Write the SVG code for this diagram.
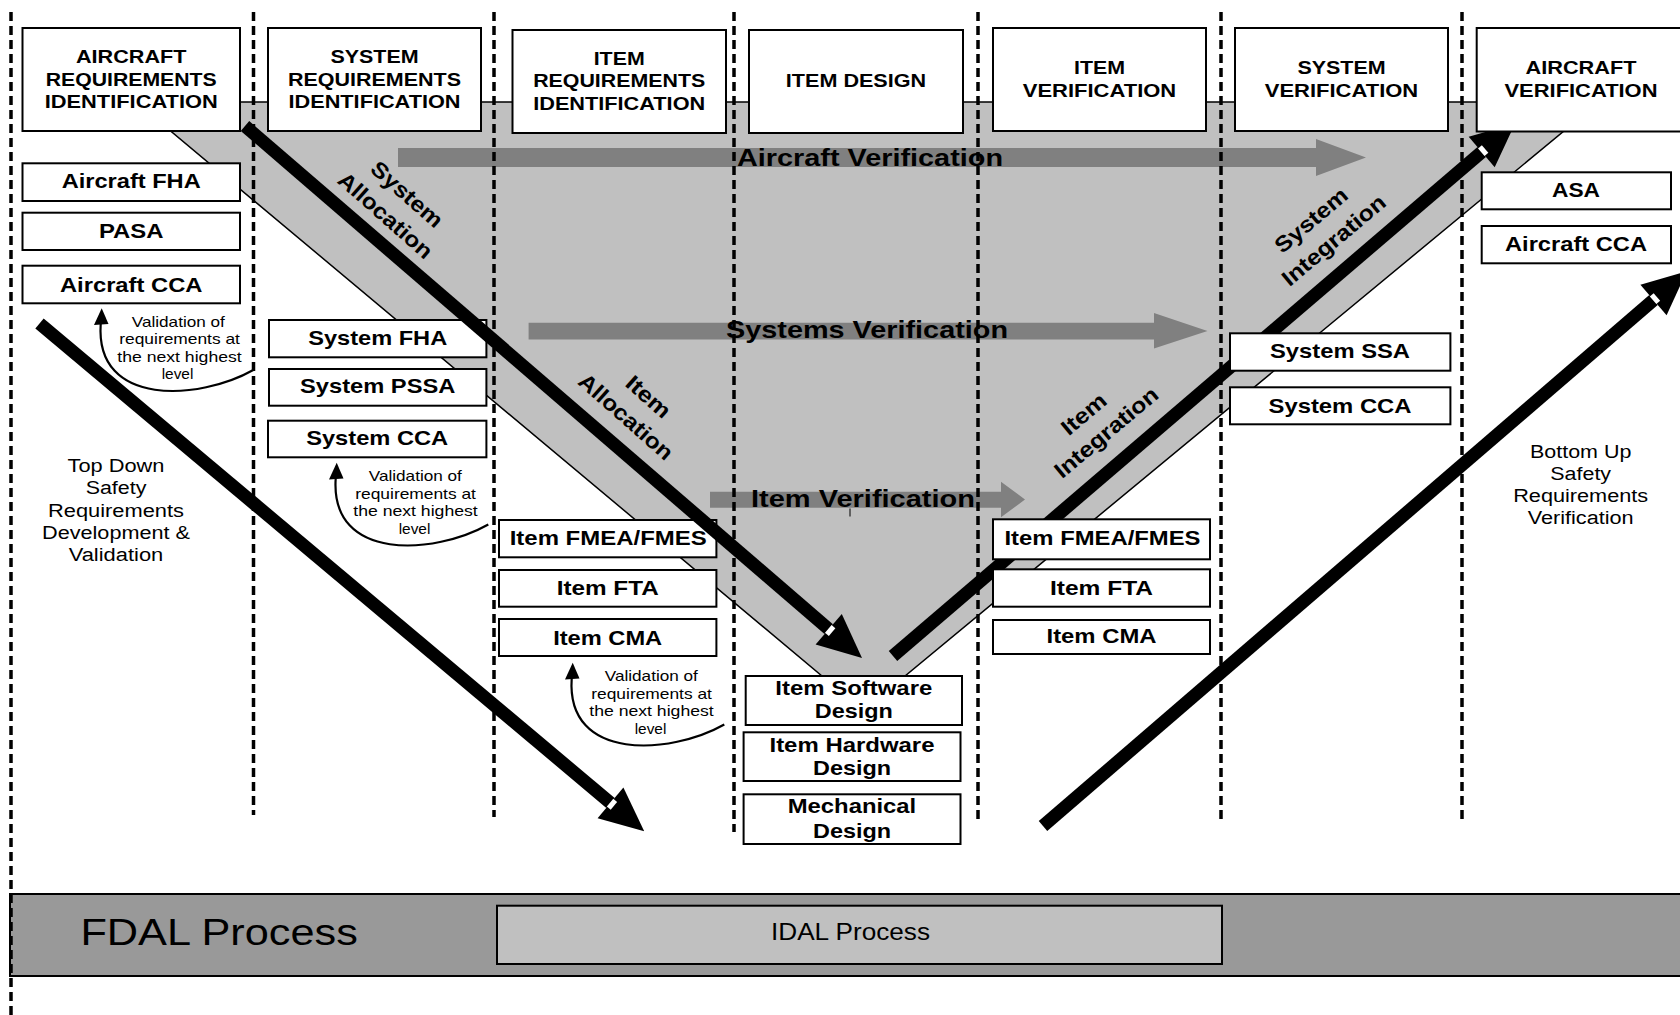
<svg xmlns="http://www.w3.org/2000/svg" width="1680" height="1015" viewBox="0 0 1680 1015">
<style>
text{font-family:"Liberation Sans",Arial,sans-serif;fill:#000}
.box{fill:#fff;stroke:#000;stroke-width:2}
.hdr{font-weight:bold;font-size:18px;text-anchor:middle}
.lbl{font-weight:bold;font-size:21px;text-anchor:middle}
.big{font-weight:bold;font-size:24px;text-anchor:middle}
.rot{font-weight:bold;font-size:22px;text-anchor:middle}
.note{font-size:14.5px;text-anchor:middle}
.side{font-size:18px;text-anchor:middle}
.dash{stroke:#000;stroke-width:3.5;stroke-dasharray:9 5;fill:none}
.shaft{stroke:#000;stroke-width:13;stroke-linecap:butt;fill:none}
.garr{fill:#808080}
.curve{fill:none;stroke:#000;stroke-width:2.2}
</style>
<rect width="1680" height="1015" fill="#fff"/>

<!-- Process bands -->
<g id="fdal">
<rect x="10" y="894" width="1680" height="82" fill="#999999" stroke="#000" stroke-width="2"/>
<text x="80.4" y="945" font-size="37" textLength="277.5" lengthAdjust="spacingAndGlyphs">FDAL Process</text>
</g>
<g id="idal">
<rect x="497" y="905.7" width="725" height="58.3" fill="#c0c0c0" stroke="#000" stroke-width="2"/>
<text x="771" y="940" font-size="23" textLength="159" lengthAdjust="spacingAndGlyphs">IDAL Process</text>
</g>

<!-- V shape -->
<g id="v-shape">
<polygon points="136,102 1599,102 905,676 822,676" fill="#c0c0c0" stroke="#000" stroke-width="1.5"/>
</g>

<!-- gray verification arrows -->
<g id="aircraft-verification">
<path class="garr" d="M398,148 H1316 V139 L1366,157.5 L1316,176 V167 H398 Z"/>
<text class="big" x="870" y="165.7" textLength="266" lengthAdjust="spacingAndGlyphs">Aircraft Verification</text>
</g>
<g id="systems-verification">
<path class="garr" d="M528.6,322.7 H1154 V313 L1207.5,331 L1154,348.5 V339.5 H528.6 Z"/>
<text class="big" x="867" y="338.3" textLength="282" lengthAdjust="spacingAndGlyphs">Systems Verification</text>
</g>
<g id="item-verification">
<path class="garr" d="M710,491.7 H1001 V481.7 L1025,499.5 L1001,517.3 V507.7 H710 Z"/>
<text class="big" x="863" y="506.7" textLength="224" lengthAdjust="spacingAndGlyphs">Item Verification</text>
<line x1="850" y1="508.5" x2="850" y2="516.5" stroke="#000" stroke-width="1"/>
</g>

<!-- column separators -->
<g id="separators">
<line class="dash" x1="11" y1="12" x2="11" y2="1015"/>
<line class="dash" x1="253.5" y1="12" x2="253.5" y2="815"/>
<line class="dash" x1="494" y1="12" x2="494" y2="817"/>
<line class="dash" x1="734" y1="12" x2="734" y2="832"/>
<line class="dash" x1="978" y1="12" x2="978" y2="820"/>
<line class="dash" x1="1221" y1="12" x2="1221" y2="823"/>
<line class="dash" x1="1462" y1="12" x2="1462" y2="820"/>
</g>

<!-- left-side boxes -->
<g id="aircraft-fha"><rect class="box" x="22.5" y="163.3" width="217.5" height="37.7"/><text class="lbl" x="131.2" y="188.3" textLength="139" lengthAdjust="spacingAndGlyphs">Aircraft FHA</text></g>
<g id="pasa"><rect class="box" x="22.5" y="212.7" width="217.5" height="37.3"/><text class="lbl" x="131.2" y="238" textLength="64.6" lengthAdjust="spacingAndGlyphs">PASA</text></g>
<g id="aircraft-cca-left"><rect class="box" x="22.5" y="265.7" width="217.5" height="37.6"/><text class="lbl" x="131.2" y="291.7" textLength="142.5" lengthAdjust="spacingAndGlyphs">Aircraft CCA</text></g>

<g id="system-fha"><rect class="box" x="269" y="320" width="217.4" height="37.3"/><text class="lbl" x="377.7" y="345" textLength="139" lengthAdjust="spacingAndGlyphs">System FHA</text></g>
<g id="system-pssa"><rect class="box" x="269" y="369" width="217.4" height="36.7"/><text class="lbl" x="377.7" y="393.3" textLength="155.4" lengthAdjust="spacingAndGlyphs">System PSSA</text></g>
<g id="system-cca-left"><rect class="box" x="268" y="420.7" width="218.4" height="36.6"/><text class="lbl" x="377.2" y="445" textLength="142" lengthAdjust="spacingAndGlyphs">System CCA</text></g>

<g id="item-fmea-left"><rect class="box" x="499" y="520" width="217.4" height="37.3"/><text class="lbl" x="608.2" y="545" textLength="197" lengthAdjust="spacingAndGlyphs">Item FMEA/FMES</text></g>
<g id="item-fta-left"><rect class="box" x="499" y="570" width="217.4" height="36.7"/><text class="lbl" x="607.7" y="595" textLength="102" lengthAdjust="spacingAndGlyphs">Item FTA</text></g>
<g id="item-cma-left"><rect class="box" x="499" y="619" width="217.4" height="37"/><text class="lbl" x="607.7" y="645" textLength="109" lengthAdjust="spacingAndGlyphs">Item CMA</text></g>

<!-- downward black arrows (connectors) -->
<g id="connectors-down">
<line class="shaft" x1="39.5" y1="323.5" x2="610.5" y2="802.9"/>
<polygon points="644.2,831.2 597.6,818.2 623.4,787.6"/>
<rect x="-2.5" y="-5" width="5" height="10" fill="#fff" transform="translate(612,804.2) rotate(40)"/>
<line class="shaft" x1="245" y1="126" x2="828.7" y2="629.2"/>
<polygon points="862,657.9 815.6,644.4 841.8,614"/>
<rect x="-2.5" y="-5" width="5" height="10" fill="#fff" transform="translate(830.2,630.5) rotate(40.8)"/>
</g>

<!-- upward black arrows (connectors) -->
<g id="connectors-up">
<line class="shaft" x1="893" y1="656" x2="1481.7" y2="152"/>
<polygon points="1515.1,123.4 1494.7,167.2 1468.7,136.8"/>
<rect x="-2.5" y="-5" width="5" height="10" fill="#fff" transform="translate(1483.2,150.7) rotate(-40.6)"/>
<line class="shaft" x1="1043" y1="826" x2="1653.5" y2="300"/>
<polygon points="1686.8,271.3 1666.6,315.2 1640.4,284.8"/>
<rect x="-2.5" y="-5" width="5" height="10" fill="#fff" transform="translate(1655,298.7) rotate(-40.7)"/>
</g>

<!-- rotated arrow labels -->
<g id="system-allocation">
<text class="rot" transform="translate(402,200) rotate(41.5)" textLength="88" lengthAdjust="spacingAndGlyphs">System</text>
<text class="rot" transform="translate(380.5,221) rotate(41.5)" textLength="118" lengthAdjust="spacingAndGlyphs">Allocation</text>
</g>
<g id="item-allocation">
<text class="rot" transform="translate(643.5,402.4) rotate(41.5)" textLength="52" lengthAdjust="spacingAndGlyphs">Item</text>
<text class="rot" transform="translate(621,422.4) rotate(41.5)" textLength="118" lengthAdjust="spacingAndGlyphs">Allocation</text>
</g>
<g id="system-integration">
<text class="rot" transform="translate(1316,226) rotate(-40)" textLength="88" lengthAdjust="spacingAndGlyphs">System</text>
<text class="rot" transform="translate(1338.5,246) rotate(-40)" textLength="128" lengthAdjust="spacingAndGlyphs">Integration</text>
</g>
<g id="item-integration">
<text class="rot" transform="translate(1088.6,419.7) rotate(-40)" textLength="52" lengthAdjust="spacingAndGlyphs">Item</text>
<text class="rot" transform="translate(1111,438.2) rotate(-40)" textLength="128" lengthAdjust="spacingAndGlyphs">Integration</text>
</g>

<!-- header boxes -->
<g id="hdr-aircraft-req"><rect class="box" x="22.5" y="28" width="217.5" height="103"/>
<text class="hdr" x="131.2" y="63.3" textLength="110.4" lengthAdjust="spacingAndGlyphs">AIRCRAFT</text>
<text class="hdr" x="131.2" y="86" textLength="171" lengthAdjust="spacingAndGlyphs">REQUIREMENTS</text>
<text class="hdr" x="131.2" y="108.3" textLength="173" lengthAdjust="spacingAndGlyphs">IDENTIFICATION</text></g>
<g id="hdr-system-req"><rect class="box" x="268" y="28" width="213" height="103"/>
<text class="hdr" x="374.5" y="63.3" textLength="88.2" lengthAdjust="spacingAndGlyphs">SYSTEM</text>
<text class="hdr" x="374.5" y="86" textLength="173" lengthAdjust="spacingAndGlyphs">REQUIREMENTS</text>
<text class="hdr" x="374.5" y="108.3" textLength="172" lengthAdjust="spacingAndGlyphs">IDENTIFICATION</text></g>
<g id="hdr-item-req"><rect class="box" x="512.5" y="30" width="213.5" height="103"/>
<text class="hdr" x="619.2" y="65" textLength="51" lengthAdjust="spacingAndGlyphs">ITEM</text>
<text class="hdr" x="619.2" y="87.3" textLength="172" lengthAdjust="spacingAndGlyphs">REQUIREMENTS</text>
<text class="hdr" x="619.2" y="110" textLength="172" lengthAdjust="spacingAndGlyphs">IDENTIFICATION</text></g>
<g id="hdr-item-design"><rect class="box" x="749" y="30" width="214" height="103"/>
<text class="hdr" x="856" y="87.3" textLength="140.3" lengthAdjust="spacingAndGlyphs">ITEM DESIGN</text></g>
<g id="hdr-item-ver"><rect class="box" x="993" y="28" width="213" height="103"/>
<text class="hdr" x="1099.5" y="74.3" textLength="51" lengthAdjust="spacingAndGlyphs">ITEM</text>
<text class="hdr" x="1099.5" y="97.3" textLength="153.4" lengthAdjust="spacingAndGlyphs">VERIFICATION</text></g>
<g id="hdr-system-ver"><rect class="box" x="1235" y="28" width="213" height="103"/>
<text class="hdr" x="1341.5" y="74.3" textLength="88.2" lengthAdjust="spacingAndGlyphs">SYSTEM</text>
<text class="hdr" x="1341.5" y="97.3" textLength="153.4" lengthAdjust="spacingAndGlyphs">VERIFICATION</text></g>
<g id="hdr-aircraft-ver"><rect class="box" x="1476.7" y="28" width="215" height="103.5"/>
<text class="hdr" x="1581" y="74.3" textLength="111" lengthAdjust="spacingAndGlyphs">AIRCRAFT</text>
<text class="hdr" x="1581" y="97.3" textLength="153" lengthAdjust="spacingAndGlyphs">VERIFICATION</text></g>

<!-- item design boxes -->
<g id="item-software"><rect class="box" x="745.7" y="676" width="216.3" height="49"/>
<text class="lbl" x="853.8" y="695" textLength="157" lengthAdjust="spacingAndGlyphs">Item Software</text>
<text class="lbl" x="853.8" y="718" textLength="78" lengthAdjust="spacingAndGlyphs">Design</text></g>
<g id="item-hardware"><rect class="box" x="743.6" y="732.3" width="216.9" height="48.7"/>
<text class="lbl" x="852" y="751.7" textLength="165" lengthAdjust="spacingAndGlyphs">Item Hardware</text>
<text class="lbl" x="852" y="775" textLength="78" lengthAdjust="spacingAndGlyphs">Design</text></g>
<g id="mechanical"><rect class="box" x="743.6" y="794.3" width="216.9" height="49.7"/>
<text class="lbl" x="852" y="813.3" textLength="128.5" lengthAdjust="spacingAndGlyphs">Mechanical</text>
<text class="lbl" x="852" y="838.3" textLength="78" lengthAdjust="spacingAndGlyphs">Design</text></g>

<!-- right-side boxes -->
<g id="item-fmea-right"><rect class="box" x="993" y="519.3" width="217" height="40"/><text class="lbl" x="1102.5" y="545" textLength="196" lengthAdjust="spacingAndGlyphs">Item FMEA/FMES</text></g>
<g id="item-fta-right"><rect class="box" x="993" y="569.3" width="217" height="37.4"/><text class="lbl" x="1101.5" y="595" textLength="103" lengthAdjust="spacingAndGlyphs">Item FTA</text></g>
<g id="item-cma-right"><rect class="box" x="993" y="620" width="217" height="34"/><text class="lbl" x="1101.5" y="643.3" textLength="110" lengthAdjust="spacingAndGlyphs">Item CMA</text></g>

<g id="system-ssa"><rect class="box" x="1230" y="333.3" width="220.4" height="37.4"/><text class="lbl" x="1340" y="358.3" textLength="140" lengthAdjust="spacingAndGlyphs">System SSA</text></g>
<g id="system-cca-right"><rect class="box" x="1230" y="387.3" width="220.4" height="37"/><text class="lbl" x="1340" y="412.7" textLength="143" lengthAdjust="spacingAndGlyphs">System CCA</text></g>

<g id="asa"><rect class="box" x="1481.7" y="172.3" width="189.3" height="37"/><text class="lbl" x="1576" y="197.3" textLength="48" lengthAdjust="spacingAndGlyphs">ASA</text></g>
<g id="aircraft-cca-right"><rect class="box" x="1481.7" y="226" width="189.3" height="37.3"/><text class="lbl" x="1576" y="250.7" textLength="142" lengthAdjust="spacingAndGlyphs">Aircraft CCA</text></g>

<!-- validation annotations -->
<g id="validation-1">
<path class="curve" d="M253.3,370 C200,400 95,408 100.7,324"/>
<polygon points="101.7,308.3 94,325 108.5,324"/>
<text class="note" x="178.3" y="326.5" textLength="93" lengthAdjust="spacingAndGlyphs">Validation of</text>
<text class="note" x="179.6" y="344" textLength="120.7" lengthAdjust="spacingAndGlyphs">requirements at</text>
<text class="note" x="179.5" y="361.5" textLength="124.4" lengthAdjust="spacingAndGlyphs">the next highest</text>
<text class="note" x="177.5" y="379" textLength="31.7" lengthAdjust="spacingAndGlyphs">level</text>
</g>
<g id="validation-2" transform="translate(235,154.5)">
<path class="curve" d="M253.3,370 C200,400 95,408 100.7,324"/>
<polygon points="101.7,308.3 94,325 108.5,324"/>
<text class="note" x="180.3" y="326.5" textLength="93" lengthAdjust="spacingAndGlyphs">Validation of</text>
<text class="note" x="180.6" y="344" textLength="120.7" lengthAdjust="spacingAndGlyphs">requirements at</text>
<text class="note" x="180.5" y="361.5" textLength="124.4" lengthAdjust="spacingAndGlyphs">the next highest</text>
<text class="note" x="179.5" y="379" textLength="31.7" lengthAdjust="spacingAndGlyphs">level</text>
</g>
<g id="validation-3" transform="translate(471,354.5)">
<path class="curve" d="M253.3,370 C200,400 95,408 100.7,324"/>
<polygon points="101.7,308.3 94,325 108.5,324"/>
<text class="note" x="180.3" y="326.5" textLength="93" lengthAdjust="spacingAndGlyphs">Validation of</text>
<text class="note" x="180.6" y="344" textLength="120.7" lengthAdjust="spacingAndGlyphs">requirements at</text>
<text class="note" x="180.5" y="361.5" textLength="124.4" lengthAdjust="spacingAndGlyphs">the next highest</text>
<text class="note" x="179.5" y="379" textLength="31.7" lengthAdjust="spacingAndGlyphs">level</text>
</g>

<!-- side captions -->
<g id="top-down-caption">
<text class="side" x="116" y="472" textLength="97" lengthAdjust="spacingAndGlyphs">Top Down</text>
<text class="side" x="116" y="494" textLength="60.7" lengthAdjust="spacingAndGlyphs">Safety</text>
<text class="side" x="116" y="516.5" textLength="136" lengthAdjust="spacingAndGlyphs">Requirements</text>
<text class="side" x="116" y="538.5" textLength="148" lengthAdjust="spacingAndGlyphs">Development &amp;</text>
<text class="side" x="116" y="560.5" textLength="94.6" lengthAdjust="spacingAndGlyphs">Validation</text>
</g>
<g id="bottom-up-caption">
<text class="side" x="1580.7" y="458.3" textLength="101.4" lengthAdjust="spacingAndGlyphs">Bottom Up</text>
<text class="side" x="1580.7" y="480" textLength="60.7" lengthAdjust="spacingAndGlyphs">Safety</text>
<text class="side" x="1580.7" y="502.3" textLength="135" lengthAdjust="spacingAndGlyphs">Requirements</text>
<text class="side" x="1580.7" y="524" textLength="106" lengthAdjust="spacingAndGlyphs">Verification</text>
</g>
</svg>
